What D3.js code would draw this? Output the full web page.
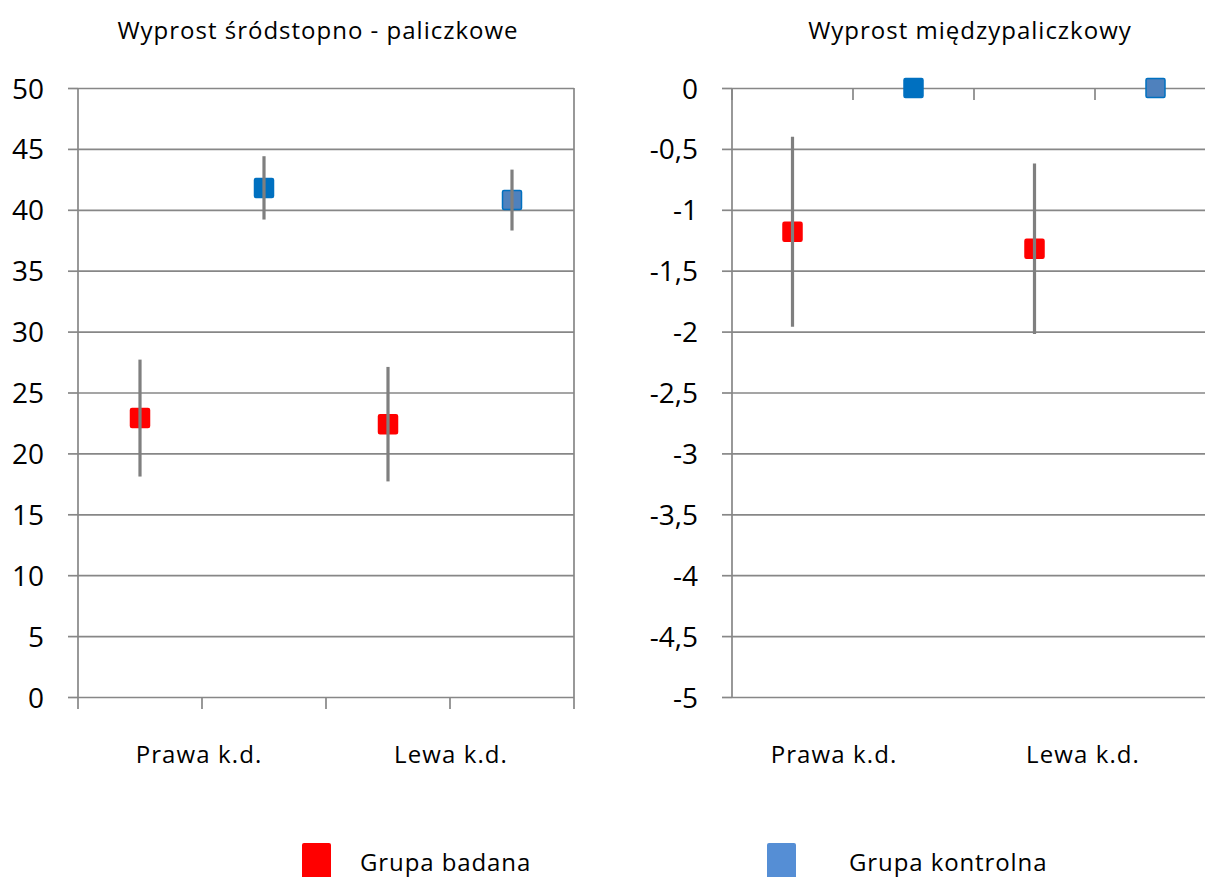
<!DOCTYPE html>
<html>
<head>
<meta charset="utf-8">
<script src="https://cdn.jsdelivr.net/npm/d3@7"></script>
<style>
  html, body { margin: 0; padding: 0; background: #fff; overflow: hidden; }
  svg text { font-family: "Open Sans", "Noto Sans", sans-serif; fill: #000; }
</style>
</head>
<body>
<svg id="chart" width="1205" height="877"></svg>
<script>
// Categories and series
const categories = ["Prawa k.d.", "Lewa k.d."];
const seriesNames = ["Grupa badana", "Grupa kontrolna"];

// Metacarpophalangeal extension (mean and SD)
const mcpBadana = [22.9, 22.4];
const mcpBadanaSD = [4.8, 4.7];
const mcpKontrolna = [41.8, 40.8];
const mcpKontrolnaSD = [2.6, 2.5];

// Interphalangeal extension (mean and SD)
const ipBadana = [-1.18, -1.32];
const ipBadanaSD = [0.78, 0.70];
const ipKontrolna = [0, 0];
const ipKontrolnaSD = [0, 0];

// Tick values for the value axes
const mcpTicks = [0, 5, 10, 15, 20, 25, 30, 35, 40, 45, 50];
const ipTicks = [0, -0.5, -1, -1.5, -2, -2.5, -3, -3.5, -4, -4.5, -5];

const svg = d3.select("#chart");
const GRID = "#878787";
const ERR = "#7f7f7f";
const fmt = d => String(d).replace(".", ",");

// marker styles per series, per category (second control point is a lighter fill)
const markerFill = [["#ff0000", "#ff0000"], ["#0070c0", "#4f81bd"]];
const markerStroke = [["#ff0000", "#ff0000"], ["#0070c0", "#0070c0"]];

function panel(cfg) {
  const g = svg.append("g");
  const y = d3.scaleLinear().domain(cfg.domain).range([cfg.bottom, cfg.top]);
  const outer = d3.scaleBand().domain(categories).range([cfg.left, cfg.right]);
  const inner = d3.scaleBand().domain(seriesNames).range([0, outer.bandwidth()]);

  // horizontal gridlines with outward tick marks
  g.append("g")
    .attr("transform", `translate(${cfg.left},0)`)
    .call(d3.axisLeft(y).tickValues(cfg.ticks).tickFormat(fmt)
      .tickSize(-(cfg.right - cfg.left)).tickPadding(0))
    .call(a => a.select(".domain").remove())
    .call(a => a.selectAll(".tick line").attr("stroke", GRID).attr("stroke-width", 1.7))
    .call(a => a.selectAll(".tick").append("line")
      .attr("x1", -10).attr("x2", 0).attr("stroke", GRID).attr("stroke-width", 1.7))
    .call(a => a.selectAll(".tick text")
      .attr("x", -34).attr("font-size", 28).attr("fill", "#000")
      .attr("font-family", "Open Sans, sans-serif")
      .attr("dy", "0.36em"));

  // vertical axis line and right border
  g.append("line").attr("x1", cfg.left).attr("x2", cfg.left)
    .attr("y1", y(cfg.domain[1])).attr("y2", y(cfg.domain[0]))
    .attr("stroke", GRID).attr("stroke-width", 1.7);
  g.append("line").attr("x1", cfg.right).attr("x2", cfg.right)
    .attr("y1", y(cfg.domain[1])).attr("y2", y(cfg.domain[0]))
    .attr("stroke", GRID).attr("stroke-width", 1.7);

  // category axis tick marks at slot boundaries, drawn at the crossing value
  const slotEdges = [];
  categories.forEach(c => seriesNames.forEach(s => slotEdges.push(outer(c) + inner(s))));
  slotEdges.push(cfg.right);
  const yCross = y(cfg.crossAt);
  g.selectAll("line.xtick").data(slotEdges).join("line")
    .attr("class", "xtick")
    .attr("x1", d => d).attr("x2", d => d)
    .attr("y1", yCross).attr("y2", yCross + 12)
    .attr("stroke", GRID).attr("stroke-width", 1.7);

  // category labels
  g.selectAll("text.cat").data(categories).join("text")
    .attr("class", "cat")
    .attr("x", (c, i) => outer(c) + outer.bandwidth() / 2 + cfg.labelShift[i])
    .attr("y", 763)
    .attr("text-anchor", "middle")
    .attr("font-size", 24)
    .attr("letter-spacing", 1.1)
    .text(c => c);

  // title
  g.append("text")
    .attr("x", cfg.titleX).attr("y", 39)
    .attr("text-anchor", "middle")
    .attr("font-size", 24)
    .attr("letter-spacing", 1)
    .text(cfg.title);

  // points
  const pts = [];
  cfg.series.forEach((s, si) => {
    categories.forEach((c, ci) => {
      pts.push({ si, ci, cx: outer(c) + inner(seriesNames[si]) + inner.bandwidth() / 2,
        v: s.mean[ci], sd: s.sd[ci] });
    });
  });

  const size = 19;
  g.selectAll("rect.mk").data(pts).join("rect")
    .attr("class", "mk")
    .attr("x", d => d.cx - size / 2)
    .attr("y", d => y(d.v) - size / 2)
    .attr("width", size).attr("height", size)
    .attr("rx", 1.5)
    .attr("fill", d => markerFill[d.si][d.ci])
    .attr("stroke", d => markerStroke[d.si][d.ci])
    .attr("stroke-width", 1.5);

  // error bars (drawn over the markers)
  g.selectAll("line.err").data(pts.filter(d => d.sd > 0)).join("line")
    .attr("class", "err")
    .attr("x1", d => d.cx).attr("x2", d => d.cx)
    .attr("y1", d => y(d.v + d.sd)).attr("y2", d => y(d.v - d.sd))
    .attr("stroke", ERR).attr("stroke-width", 3.2);
}

panel({
  title: "Wyprost śródstopno - paliczkowe",
  titleX: 318,
  domain: [0, 50], ticks: mcpTicks, crossAt: 0,
  left: 78, right: 574, top: 88, bottom: 697,
  labelShift: [-3, 1],
  series: [
    { mean: mcpBadana, sd: mcpBadanaSD },
    { mean: mcpKontrolna, sd: mcpKontrolnaSD }
  ]
});

panel({
  title: "Wyprost międzypaliczkowy",
  titleX: 970,
  domain: [-5, 0], ticks: ipTicks, crossAt: 0,
  left: 732, right: 1216, top: 88, bottom: 697,
  labelShift: [-19, -12],
  series: [
    { mean: ipBadana, sd: ipBadanaSD },
    { mean: ipKontrolna, sd: ipKontrolnaSD }
  ]
});

// legend
const legendColors = ["#ff0000", "#558ed5"];
const legendX = [302, 767];
const legendTextX = [360, 849];
const lg = svg.append("g");
seriesNames.forEach((name, i) => {
  lg.append("rect")
    .attr("x", legendX[i]).attr("y", 843)
    .attr("width", 29).attr("height", 44)
    .attr("rx", 2)
    .attr("fill", legendColors[i]);
  lg.append("text")
    .attr("x", legendTextX[i]).attr("y", 871)
    .attr("font-size", 24)
    .attr("letter-spacing", 0.9)
    .text(name);
});
</script>
</body>
</html>
